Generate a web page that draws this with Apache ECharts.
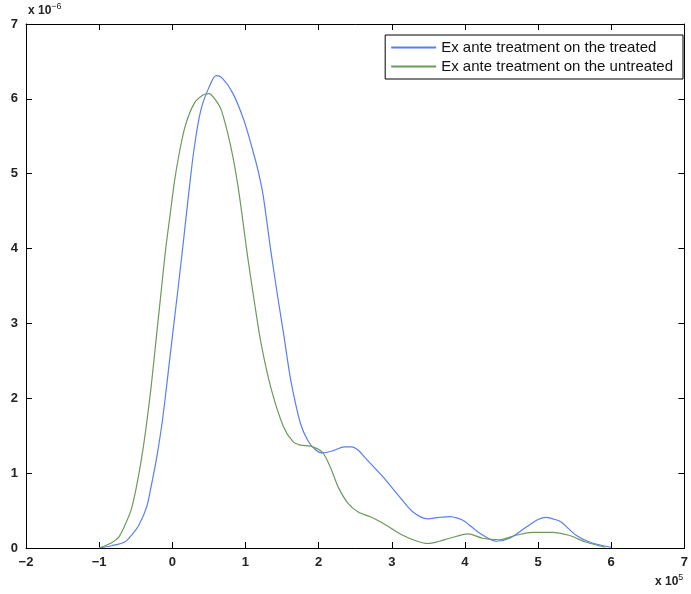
<!DOCTYPE html>
<html>
<head>
<meta charset="utf-8" />
<title>Ex ante treatment</title>
<script src="https://cdn.jsdelivr.net/npm/echarts@6/dist/echarts.min.js"></script>
<style>
  * { margin: 0; padding: 0; }
  #chart { width: 691px; height: 594px; background: #fff; }
</style>
</head>
<body>
<div id="chart"></div>
<script>
// x in units of 1e5, y in units of 1e-6
var treated = [
  [-1.0, 0], [-0.83, 0.03], [-0.65, 0.08], [-0.55, 0.18], [-0.46, 0.3],
  [-0.35, 0.55], [-0.29, 0.82], [-0.22, 1.17], [-0.15, 1.6], [-0.10, 1.98],
  [-0.05, 2.4], [0.01, 2.9], [0.08, 3.48], [0.15, 4.08], [0.22, 4.7],
  [0.30, 5.35], [0.39, 5.85], [0.5, 6.15], [0.6, 6.31], [0.68, 6.28],
  [0.83, 6.07], [0.98, 5.71], [1.10, 5.31], [1.17, 5.05], [1.24, 4.72], [1.345, 3.98],
  [1.45, 3.3], [1.52, 2.87], [1.62, 2.24], [1.75, 1.67], [1.85, 1.44],
  [1.95, 1.32], [2.05, 1.27], [2.2, 1.3], [2.35, 1.35], [2.45, 1.35],
  [2.55, 1.3], [2.64, 1.2], [2.88, 0.95], [3.11, 0.68], [3.29, 0.48],
  [3.49, 0.39], [3.65, 0.41], [3.79, 0.42], [3.9, 0.4], [3.99, 0.36],
  [4.2, 0.2], [4.43, 0.09], [4.61, 0.13], [4.84, 0.28], [5.0, 0.38],
  [5.11, 0.41], [5.2, 0.39], [5.31, 0.35], [5.52, 0.17], [5.73, 0.07],
  [6.0, 0.01]
];
var untreated = [
  [-1.0, 0], [-0.83, 0.07], [-0.73, 0.15], [-0.65, 0.3], [-0.56, 0.52],
  [-0.49, 0.82], [-0.42, 1.2], [-0.36, 1.6], [-0.29, 2.15], [-0.22, 2.8],
  [-0.15, 3.45], [-0.09, 4.0], [-0.03, 4.45], [0.03, 4.9], [0.1, 5.3],
  [0.18, 5.65], [0.30, 5.94], [0.42, 6.05], [0.50, 6.07],
  [0.58, 6.0], [0.67, 5.85], [0.80, 5.36], [0.90, 4.82], [1.03, 3.89],
  [1.12, 3.3], [1.21, 2.75], [1.345, 2.15], [1.52, 1.62], [1.65, 1.42],
  [1.75, 1.375], [1.89, 1.36], [2.05, 1.28], [2.16, 1.08], [2.27, 0.81],
  [2.40, 0.6], [2.54, 0.48], [2.7, 0.42], [2.88, 0.33], [3.15, 0.17],
  [3.35, 0.09], [3.49, 0.06], [3.65, 0.09], [3.79, 0.13], [4.04, 0.19],
  [4.24, 0.13], [4.47, 0.11], [4.70, 0.17], [4.92, 0.21], [5.19, 0.21],
  [5.42, 0.17], [5.65, 0.08], [5.92, 0.01]
];
var seriesNames = ['Ex ante treatment on the treated', 'Ex ante treatment on the untreated'];
var xRange = [-2, 7];
var yRange = [0, 7];

var font = 'Liberation Sans, Arial, sans-serif';
var tickFmt = function (v) { return String(v).replace('-', '\u2212'); };

var chart = echarts.init(document.getElementById('chart'), null, { renderer: 'canvas' });

function axisCommon(show) {
  return {
    axisLine: { show: true, onZero: false, lineStyle: { color: '#000', width: 1 } },
    axisTick: { show: true, inside: true, length: 6, lineStyle: { color: '#000', width: 1 } },
    splitLine: { show: false },
    axisLabel: {
      show: show, color: '#222', fontFamily: font, fontSize: 13, fontWeight: 'bold',
      formatter: tickFmt
    }
  };
}

var option = {
  animation: false,
  backgroundColor: '#fff',
  grid: { left: 26, right: 3, top: 24, bottom: 46, containLabel: false },
  legend: {
    show: true,
    orient: 'vertical',
    right: 8, top: 35,
    backgroundColor: '#fff',
    borderColor: '#000', borderWidth: 1,
    padding: [5, 10, 5, 6],
    itemGap: 4,
    itemWidth: 45, itemHeight: 2,
    icon: 'rect',
    textStyle: { fontFamily: font, fontSize: 15, color: '#111' },
    data: seriesNames
  },
  xAxis: [
    Object.assign({ type: 'value', position: 'bottom', min: xRange[0], max: xRange[1], interval: 1 }, axisCommon(true)),
    Object.assign({ type: 'value', position: 'top', min: xRange[0], max: xRange[1], interval: 1 }, axisCommon(false))
  ],
  yAxis: [
    Object.assign({ type: 'value', position: 'left', min: yRange[0], max: yRange[1], interval: 1 }, axisCommon(true)),
    Object.assign({ type: 'value', position: 'right', min: yRange[0], max: yRange[1], interval: 1 }, axisCommon(false))
  ],
  graphic: [
    {
      type: 'text', left: 28, top: 2,
      style: {
        text: '{b|x 10}{s|\u22126}',
        rich: {
          b: { fontFamily: font, fontSize: 12, fontWeight: 'bold', fill: '#222' },
          s: { fontFamily: font, fontSize: 9, fill: '#222', padding: [0, 0, 8, 0] }
        }
      }
    },
    {
      type: 'text', left: 655, top: 573,
      style: {
        text: '{b|x 10}{s|5}',
        rich: {
          b: { fontFamily: font, fontSize: 12, fontWeight: 'bold', fill: '#222' },
          s: { fontFamily: font, fontSize: 9, fill: '#222', padding: [0, 0, 8, 0] }
        }
      }
    }
  ],
  series: [
    {
      name: seriesNames[0], type: 'line', xAxisIndex: 0, yAxisIndex: 0,
      data: treated, showSymbol: false, smooth: 0.3,
      itemStyle: { color: '#5a7ff0' }, lineStyle: { color: '#5a7ff0', width: 1.2 }
    },
    {
      name: seriesNames[1], type: 'line', xAxisIndex: 0, yAxisIndex: 0,
      data: untreated, showSymbol: false, smooth: 0.3,
      itemStyle: { color: '#6a9a5c' }, lineStyle: { color: '#6a9a5c', width: 1.2 }
    }
  ]
};

chart.setOption(option);
</script>
</body>
</html>
